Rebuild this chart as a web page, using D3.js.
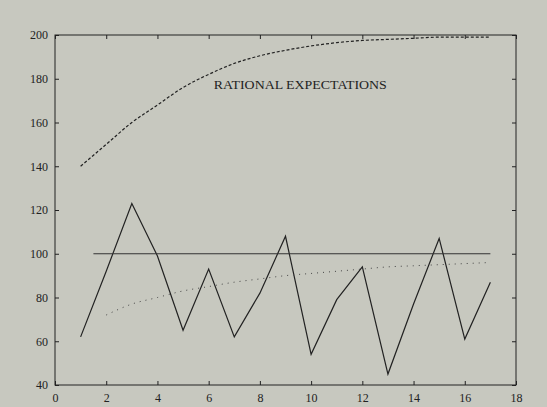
<!DOCTYPE html>
<html><head><meta charset="utf-8">
<script src="https://cdn.jsdelivr.net/npm/d3@7"></script>
<style>body{margin:0;background:#c7c8bf;} text{font-family:"Liberation Serif","Times New Roman",Times,serif;}</style>
</head><body><div id="chart"></div>
<script>
// Data
const PERIODS = d3.range(1, 18);
const ACTUAL = [62, 92, 123, 99, 65, 93, 62, 82, 108, 54, 79, 94, 45, 77, 107, 61, 87];
const RATIONAL = [140, 150, 160, 168, 176, 182, 187, 190.5, 193, 195, 196.5, 197.5, 198, 198.5, 199, 199, 199];
const DOT_X = d3.range(2, 18);
const ADAPTIVE = [72, 77, 80, 83, 85, 87, 88.5, 90, 91, 92, 93, 94, 94.5, 95, 95.5, 96];
const TARGET_X = [1.5, 17];
const TARGET_Y = 100;
const X_TICKS = [0, 2, 4, 6, 8, 10, 12, 14, 16, 18];
const Y_TICKS = [40, 60, 80, 100, 120, 140, 160, 180, 200];

const W = 547, H = 407;
const M = {left: 55, right: 31, top: 35, bottom: 22};

const svg = d3.select("#chart").append("svg").attr("width", W).attr("height", H);

const X = d3.scaleLinear().domain([0, 18]).range([M.left, W - M.right]);
const Y = d3.scaleLinear().domain([40, 200]).range([H - M.bottom, M.top]);

// frame
svg.append("rect")
   .attr("x", M.left).attr("y", M.top)
   .attr("width", X(18) - X(0)).attr("height", Y(40) - Y(200))
   .attr("fill", "none").attr("stroke", "#222").attr("stroke-width", 1);

// axes with inward ticks
svg.append("g").attr("transform", "translate(0," + Y(40) + ")")
   .call(d3.axisBottom(X).tickValues(X_TICKS).tickSizeInner(-4).tickSizeOuter(0).tickPadding(8))
   .call(g => g.select(".domain").remove())
   .selectAll("text").attr("font-size", "12px").attr("fill", "#222");
svg.append("g").attr("transform", "translate(0," + Y(200) + ")")
   .call(d3.axisTop(X).tickValues(X_TICKS).tickSizeInner(-4).tickSizeOuter(0).tickFormat(""))
   .call(g => g.select(".domain").remove());
svg.append("g").attr("transform", "translate(" + X(0) + ",0)")
   .call(d3.axisLeft(Y).tickValues(Y_TICKS).tickSizeInner(-4).tickSizeOuter(0).tickPadding(7))
   .call(g => g.select(".domain").remove())
   .selectAll("text").attr("font-size", "12px").attr("fill", "#222");
svg.append("g").attr("transform", "translate(" + X(18) + ",0)")
   .call(d3.axisRight(Y).tickValues(Y_TICKS).tickSizeInner(-4).tickSizeOuter(0).tickFormat(""))
   .call(g => g.select(".domain").remove());
svg.selectAll(".tick line").attr("stroke", "#222");

const line = d3.line().x(d => X(d[0])).y(d => Y(d[1]));
const smooth = d3.line().curve(d3.curveMonotoneX).x(d => X(d[0])).y(d => Y(d[1]));

// rational expectations (dashed)
svg.append("path")
   .attr("d", smooth(d3.zip(PERIODS, RATIONAL)))
   .attr("fill", "none").attr("stroke", "#222").attr("stroke-width", 1.2)
   .attr("stroke-dasharray", "3,2");

// actual (solid)
svg.append("path")
   .attr("d", line(d3.zip(PERIODS, ACTUAL)))
   .attr("fill", "none").attr("stroke", "#222").attr("stroke-width", 1.2);

// target level
svg.append("path")
   .attr("d", line(TARGET_X.map(x => [x, TARGET_Y])))
   .attr("fill", "none").attr("stroke", "#333").attr("stroke-width", 1);

// adaptive (dotted)
svg.append("path")
   .attr("d", smooth(d3.zip(DOT_X, ADAPTIVE)))
   .attr("fill", "none").attr("stroke", "#444").attr("stroke-width", 1)
   .attr("stroke-dasharray", "1,5");

svg.append("text")
   .attr("x", X(6.2)).attr("y", Y(175.5))
   .attr("font-size", "13px").attr("fill", "#222")
   .attr("textLength", 173).attr("lengthAdjust", "spacingAndGlyphs")
   .text("RATIONAL EXPECTATIONS");
</script>
</body></html>
